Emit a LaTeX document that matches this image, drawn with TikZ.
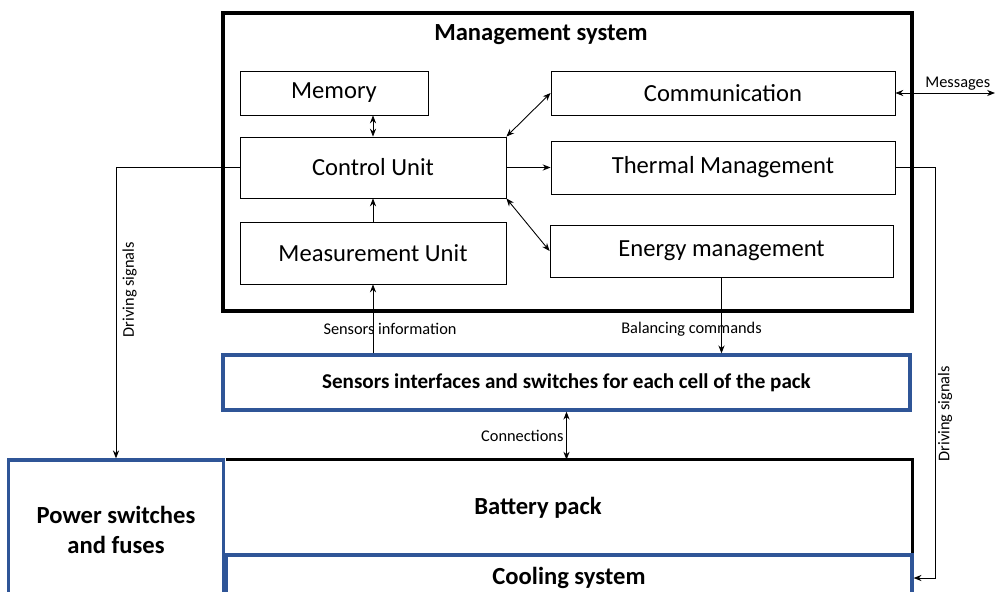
\documentclass[tikz,border=0pt]{standalone}
\usepackage{fontspec}
\setmainfont{Carlito}
\usepackage{tikz}
\usetikzlibrary{arrows.meta, positioning}

\definecolor{packblue}{RGB}{47,85,151}

\tikzset{
  unit/.style = {draw, line width = 0.5pt, inner sep = 0pt, font = \fontsize{14}{16}\selectfont},
  bluebox/.style = {draw = packblue, line width = 1.9pt, inner sep = 0pt, font = \fontsize{14}{17}\bfseries\selectfont, align = center},
  sig/.style = {line width = 0.5pt},
  siglabel/.style = {font = \fontsize{9.3}{11}\selectfont, inner sep = 1.5pt}
}

\begin{document}
\begin{tikzpicture}[x = 0.02cm, y = -0.02cm, >={Stealth[length=4.5pt, width=3.5pt]}]

\clip (0, 0) rectangle (995, 592);

% management system
\node[draw, line width = 1.8pt, minimum width = 13.78cm, minimum height = 5.96cm] (mgmt) at (567.5, 162) {};
\node[font = \fontsize{14}{16}\bfseries\selectfont] (title) at (541, 35) {Management system};

\node[unit, minimum width = 3.76cm, minimum height = 0.88cm] (mem) at (334, 93) {Memory};
\node[unit, minimum width = 6.88cm, minimum height = 0.88cm] (comm) at (723, 93) {Communication};
\node[unit, minimum width = 5.32cm, minimum height = 1.22cm] (ctrl) at (373, 167.5) {Control Unit};
\node[unit, minimum width = 6.88cm, minimum height = 1.06cm] (therm) at (723, 167.5) {Thermal Management};
\node[unit, minimum width = 5.32cm, minimum height = 1.24cm] (meas) at (373, 253) {Measurement Unit};
\node[unit, minimum width = 6.86cm, minimum height = 1.04cm] (energy) at (721.5, 251) {Energy management};

% pack side
\node[bluebox, font = \fontsize{12}{14}\bfseries\selectfont, minimum width = 13.74cm, minimum height = 1.1cm] (sens) at (566.5, 382.5)
  {Sensors interfaces and switches for each cell of the pack};
\node[inner sep = 0pt, minimum width = 13.72cm, minimum height = 1.9cm] (batt) at (569, 507.5) {};
\draw[line width = 1.8pt] (batt.north west) -- (batt.north east) -- (batt.south east);
\node[font = \fontsize{14}{16}\bfseries\selectfont] (battlabel) at (538, 508) {Battery pack};
\node[bluebox, minimum width = 13.72cm, minimum height = 0.92cm] (cool) at (569, 578) {Cooling system};
\node[bluebox, minimum width = 4.3cm, minimum height = 2.8cm] (pwr) at (116, 530) {Power switches\\and fuses};

% links inside the management system
\draw[sig, <->] (ctrl.north) -- (ctrl.north |- mem.south);
\draw[sig, ->] (meas.north) -- (ctrl.south);
\draw[sig, <->] (ctrl.north east) -- (comm.west);
\draw[sig, ->] (ctrl.east) -- (therm.west);
\draw[sig, <->] (ctrl.south east) -- (energy.west);

% links to the outside
\coordinate (msgend) at (995, 93);
\draw[sig, <->] (comm.east) -- (msgend) node[siglabel, pos = 1, above left, xshift = -1pt] {Messages};

\draw[sig, ->] (ctrl.west) -| (pwr.north)
  node[siglabel, pos = 0.71, rotate = 90, anchor = north, yshift = -2pt] {Driving signals};

\coordinate (rturn) at (935, 167.5);
\draw[sig, ->] (therm.east) -- (rturn) |- (cool.east)
  node[siglabel, pos = 0.3, rotate = 90, anchor = north] {Driving signals};

\draw[sig, ->] (meas.south |- sens.north) -- (meas.south)
  node[siglabel, pos = 0.35, xshift = 0.34cm] {Sensors information};
\draw[sig, ->] (energy.south) -- (energy.south |- sens.north)
  node[siglabel, pos = 0.68, xshift = -0.6cm] {Balancing commands};
\draw[sig, <->] (sens.south) -- (sens.south |- batt.north)
  node[siglabel, midway, left] {Connections};

\end{tikzpicture}
\end{document}
